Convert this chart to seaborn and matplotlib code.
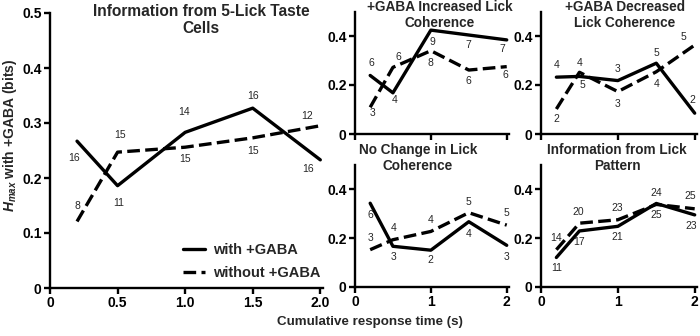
import matplotlib
matplotlib.use("Agg")
import matplotlib.pyplot as plt
import seaborn as sns
import pandas as pd
from matplotlib.lines import Line2D

# cumulative response time (s)
times = [0.2, 0.5, 1.0, 1.5, 2.0]

# H_max values (bits)
taste_with = [0.267, 0.186, 0.283, 0.327, 0.233]
taste_without = [0.121, 0.247, 0.256, 0.273, 0.295]
taste_n_with = [16, 11, 14, 16, 16]
taste_n_without = [8, 15, 15, 15, 12]

inc_with = [0.239, 0.168, 0.424, 0.404, 0.384]
inc_without = [0.109, 0.272, 0.340, 0.261, 0.275]
inc_n_with = [6, 4, 9, 7, 7]
inc_n_without = [3, 6, 8, 6, 6]

dec_with = [0.232, 0.235, 0.218, 0.289, 0.085]
dec_without = [0.102, 0.252, 0.173, 0.254, 0.363]
dec_n_with = [4, 4, 3, 5, 2]
dec_n_without = [2, 5, 3, 4, 5]

noch_with = [0.343, 0.166, 0.150, 0.267, 0.170]
noch_without = [0.152, 0.193, 0.227, 0.304, 0.253]
noch_n_with = [6, 3, 2, 4, 3]
noch_n_without = [3, 4, 4, 5, 5]

lick_with = [0.120, 0.229, 0.248, 0.342, 0.295]
lick_without = [0.152, 0.261, 0.275, 0.338, 0.320]
lick_n_with = [11, 17, 21, 25, 23]
lick_n_without = [14, 20, 23, 24, 25]

sns.set_style("ticks")
plt.rcParams["font.family"] = ["Liberation Sans", "DejaVu Sans"]
plt.rcParams["mathtext.fontset"] = "custom"
plt.rcParams["mathtext.it"] = "Liberation Sans:italic:bold"
plt.rcParams["mathtext.rm"] = "Liberation Sans:bold"

W, H = 700, 336
fig = plt.figure(figsize=(7, 3.36), dpi=100)


def rect(x0, x1, y_top, y_bot):
    return [x0 / W, 1 - y_bot / H, (x1 - x0) / W, (y_bot - y_top) / H]


DASH = (0, (3.8, 1.6))
LW = 2.4


def panel(r, xmax, with_v, without_v, n_with, n_without, off_with, off_without,
          xticks, xticklabels, yticks, yticklabels):
    ax = fig.add_axes(r)
    df = pd.DataFrame({"t": times, "with": with_v, "without": without_v})
    sns.lineplot(data=df, x="t", y="with", ax=ax, color="black", lw=LW)
    sns.lineplot(data=df, x="t", y="without", ax=ax, color="black", lw=LW,
                 linestyle=DASH)
    ax.set_xlim(0, xmax)
    ax.set_ylim(0, 0.5)
    ax.set_xticks(xticks)
    ax.set_xticklabels(xticklabels)
    ax.set_yticks(yticks)
    ax.set_yticklabels(yticklabels)
    ax.set_xlabel("")
    ax.set_ylabel("")
    sns.despine(ax=ax)
    for s in ("left", "bottom"):
        ax.spines[s].set_linewidth(1.7)
        ax.spines[s].set_color("black")
    ax.tick_params(axis="both", direction="out", length=4, width=1.7,
                   labelsize=10, pad=2, colors="black")
    for lab in ax.get_xticklabels() + ax.get_yticklabels():
        lab.set_fontweight("bold")
    for vals, ns, offs in ((with_v, n_with, off_with),
                           (without_v, n_without, off_without)):
        for t, v, n, (dx, dy) in zip(times, vals, ns, offs):
            ax.annotate(str(n), (t, v), xytext=(dx, -dy),
                        textcoords="offset pixels", ha="center", va="center",
                        fontsize=7.5)
    return ax


# label offsets in pixels (dx, dy with dy downward positive)
ax0 = panel(rect(50, 323, 13, 288), 2.02, taste_with, taste_without,
            taste_n_with, taste_n_without,
            [(-3, 17), (1, 17), (-1, -20), (0, -12), (-12, 9)],
            [(0, -15), (2, -17), (0, 12), (0, 13), (-13, -10)],
            [0, 0.5, 1.0, 1.5, 2.0], ["0", "0.5", "1.0", "1.5", "2.0"],
            [0, 0.1, 0.2, 0.3, 0.4, 0.5], ["0", "0.1", "0.2", "0.3", "0.4", "0.5"])

sub_xt = [0, 1, 2]
sub_xl = ["0", "1", "2"]
sub_yt = [0, 0.2, 0.4]
sub_yl = ["0", "0.2", "0.4"]
no_xl = ["", "", ""]

panel(rect(355, 509, 11.5, 134), 2.03, inc_with, inc_without,
      inc_n_with, inc_n_without,
      [(1, -12), (2, 7), (2, 12), (0, 10), (-4, 9)],
      [(2, 6), (5, -10), (0, 12), (0, 11), (-1, 8)],
      sub_xt, no_xl, sub_yt, sub_yl)

panel(rect(541, 697, 11.5, 134), 2.03, dec_with, dec_without,
      dec_n_with, dec_n_without,
      [(0, -12), (0, -13), (0, -12), (0, -10), (-2, -13)],
      [(0, 10), (3, 13), (0, 12), (0, 12), (-11, -8)],
      sub_xt, no_xl, sub_yt, sub_yl)

panel(rect(355, 509, 165, 286.7), 2.03, noch_with, noch_without,
      noch_n_with, noch_n_without,
      [(0, 12), (1, 11), (0, 10), (0, 12), (0, 12)],
      [(0, -12), (1, -12), (0, -11), (0, -11), (0, -12)],
      sub_xt, sub_xl, sub_yt, sub_yl)

panel(rect(541, 697, 165, 286.7), 2.03, lick_with, lick_without,
      lick_n_with, lick_n_without,
      [(0, 11), (0, 11), (-1, 11), (0, 12), (-3, 11)],
      [(0, -12), (-1, -11), (-1, -12), (0, -11), (-4, -13)],
      sub_xt, sub_xl, sub_yt, sub_yl)

# panel titles
title_kw = dict(ha="center", va="top", fontweight="bold", linespacing=1.2)
fig.text(201 / W, 1 - 4 / H, "Information from 5-Lick Taste\nCells",
         fontsize=11.2, **title_kw)
fig.text(440 / W, 1 - 0 / H, "+GABA Increased Lick\nCoherence",
         fontsize=9.8, **title_kw)
fig.text(625 / W, 1 - 0 / H, "+GABA Decreased\nLick Coherence",
         fontsize=9.8, **title_kw)
fig.text(418 / W, 1 - 143 / H, "No Change in Lick\nCoherence",
         fontsize=9.8, **title_kw)
fig.text(617 / W, 1 - 143 / H, "Information from Lick\nPattern",
         fontsize=9.8, **title_kw)

# legend
handles = [Line2D([], [], color="black", lw=LW),
           Line2D([], [], color="black", lw=LW, linestyle=DASH)]
ax0.legend(handles, ["with +GABA", "without +GABA"], frameon=False,
           loc="upper left", bbox_to_anchor=((183 - 50) / 273, (288 - 243) / 275),
           prop={"weight": "bold", "size": 10.5}, handlelength=1.5,
           handletextpad=0.55, labelspacing=0.6, borderaxespad=0, borderpad=0)

fig.text(370 / W, 1 - 322 / H, "Cumulative response time (s)", ha="center",
         va="center", fontsize=9.6, fontweight="bold")
fig.text(10 / W, 1 - 135 / H, "$H_{max}$ with +GABA (bits)", rotation=90,
         ha="center", va="center", fontsize=10, fontweight="bold")

fig.savefig("out.png", dpi=100)
